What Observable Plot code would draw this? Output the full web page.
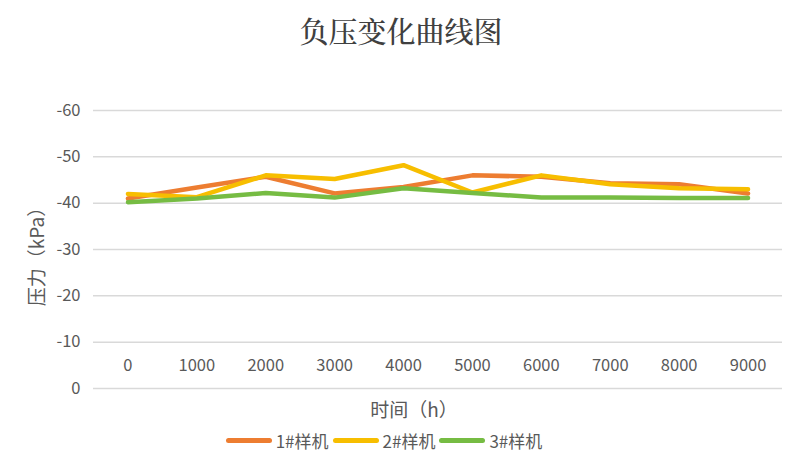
<!DOCTYPE html>
<html>
<head>
<meta charset="utf-8">
<script src="https://cdn.jsdelivr.net/npm/d3@7"></script>
<script src="https://cdn.jsdelivr.net/npm/@observablehq/plot@0.6"></script>
<style>
  html, body { margin: 0; padding: 0; background: #fff; }
  body { position: relative; width: 802px; height: 460px; overflow: hidden; font-family: "Noto Sans CJK SC", "Noto Sans", sans-serif; }
  #title { height: 70px; line-height: 62px; text-align: center; font-size: 29px; font-weight: 500; color: #404040; font-family: "Noto Serif CJK SC", "Noto Sans CJK SC", serif; }
  #legend { display: flex; justify-content: center; align-items: center; gap: 4px; height: 30px; margin-left: -34px; font-size: 17px; color: #595959; }
  .item { display: flex; align-items: center; gap: 4px; }
  .sw { width: 46px; height: 5px; border-radius: 3px; }
  #ylabel { position: absolute; left: 35px; top: 252px; transform: translate(-50%, -50%) rotate(-90deg); white-space: nowrap; font-size: 19px; color: #595959; }
</style>
</head>
<body>
<div id="title">负压变化曲线图</div>
<div id="chart"></div>
<div id="legend"></div>
<div id="ylabel">压力（kPa）</div>
<script>
const hours = [0, 1000, 2000, 3000, 4000, 5000, 6000, 7000, 8000, 9000];
const series = ["1#样机", "2#样机", "3#样机"];
const colors = ["#ED7D31", "#F7BE00", "#76BC43"];
const s1 = [-41.0, -43.4, -45.7, -42.1, -43.5, -46.0, -45.7, -44.3, -44.1, -42.1];
const s2 = [-42.0, -41.3, -46.0, -45.2, -48.2, -42.3, -46.0, -44.1, -43.2, -43.0];
const s3 = [-40.2, -41.0, -42.2, -41.2, -43.2, -42.2, -41.2, -41.2, -41.1, -41.1];
const yTicks = [-60, -50, -40, -30, -20, -10, 0];

const values = [s1, s2, s3];
const rows = [];
series.forEach((s, i) => hours.forEach((h, j) => rows.push({series: s, h, v: values[i][j]})));

const chart = Plot.plot({
  width: 802,
  height: 355,
  marginTop: 40,
  marginBottom: 37,
  marginLeft: 93,
  marginRight: 20,
  style: {fontFamily: "'Noto Sans CJK SC', 'Noto Sans', sans-serif", background: "#fff"},
  x: {domain: [-500, 9500]},
  y: {domain: [0, -60]},
  color: {domain: series, range: colors},
  marks: [
    Plot.gridY(yTicks, {stroke: "#d9d9d9", strokeOpacity: 1, strokeWidth: 1.5}),
    Plot.axisY({ticks: yTicks, tickSize: 0, tickPadding: 13, tickFormat: d => String(d), fontSize: 16.5, fill: "#595959", label: null}),
    Plot.axisX({ticks: hours, tickSize: 0, tickPadding: 0, lineAnchor: "middle", dy: -23, tickFormat: d => String(d), fontSize: 16.5, fill: "#595959", label: null}),
    Plot.text(["时间（h）"], {frameAnchor: "bottom", dy: 22, dx: -24, fontSize: 19, fill: "#595959", lineAnchor: "middle"}),
    Plot.line(rows, {x: "h", y: "v", z: "series", stroke: "series", strokeWidth: 4.5, strokeLinejoin: "round", strokeLinecap: "round"})
  ]
});
document.getElementById("chart").appendChild(chart);

const leg = document.getElementById("legend");
series.forEach((s, i) => {
  const it = document.createElement("div");
  it.className = "item";
  const sw = document.createElement("div");
  sw.className = "sw";
  sw.style.background = colors[i];
  const t = document.createElement("span");
  t.textContent = s;
  it.appendChild(sw);
  it.appendChild(t);
  leg.appendChild(it);
});
</script>
</body>
</html>
